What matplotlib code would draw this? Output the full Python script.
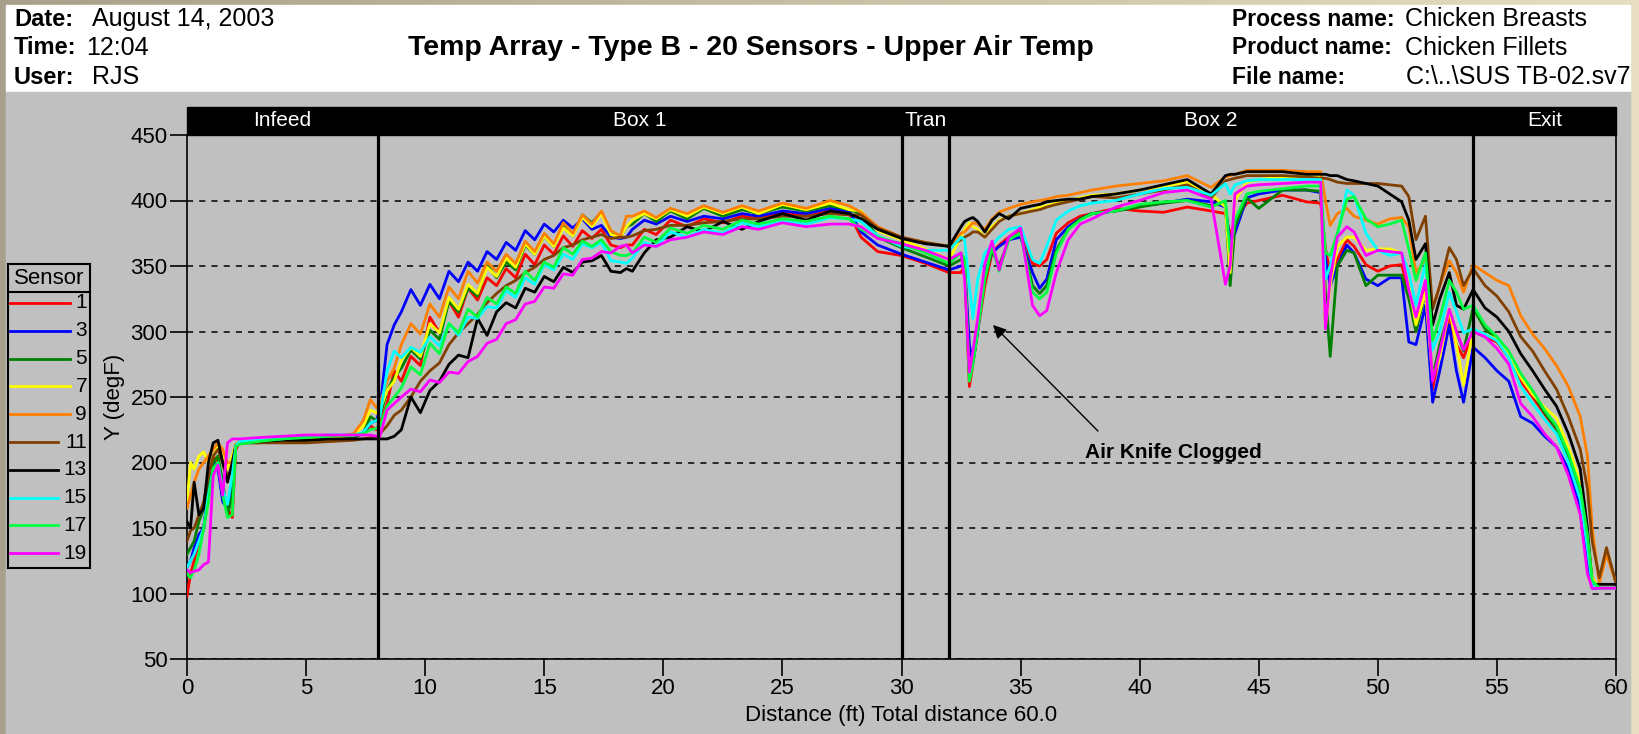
import numpy as np
import matplotlib.pyplot as plt
from matplotlib.patches import Rectangle

plt.rcParams['font.family'] = ['Liberation Sans', 'DejaVu Sans']

W, H = 1639, 734

# distance along the oven (ft)
dist = [0.0, 0.15, 0.3, 0.5, 0.7, 0.9, 1.1, 1.3, 1.5, 1.7, 1.9, 2.05, 2.2,
        3, 4, 5, 6, 7, 7.4, 7.7, 7.95,
        8.1, 8.4, 8.7, 9.0, 9.4, 9.8, 10.2, 10.6, 11.0, 11.4, 11.8, 12.2, 12.6, 13.0,
        13.4, 13.8, 14.2, 14.6, 15.0, 15.4, 15.8, 16.2, 16.6, 17.0, 17.4, 17.8, 18.2, 18.45,
        18.7, 19.2, 19.7, 20.3, 21, 21.7, 22.5, 23.3, 24, 25, 26, 27, 27.8,
        28.3, 29, 30, 31, 32, 32.5,
        32.65, 32.85, 33.0, 33.2, 33.5, 33.8, 34.1, 34.5, 35.0, 35.5, 35.8, 36.1, 36.5, 37, 37.5, 38,
        39, 40, 41, 42, 43, 43.6, 43.8, 44, 44.5, 45, 46, 47, 47.6,
        47.8, 48.0, 48.3, 48.7, 49.0, 49.5, 50.0, 50.5, 51.0, 51.3, 51.6, 52.0, 52.3, 52.6, 53.0, 53.3, 53.6, 54.0,
        54.5, 55, 55.5, 56, 56.5, 57, 57.5, 58, 58.5, 58.8, 59.0, 59.3, 59.6, 60]

# upper air temperature per sensor (degF)
s1 = [98, 115, 125, 140, 150, 175, 205, 200, 175, 165, 158, 210, 215,
      216, 217, 218, 219, 220, 222, 228, 225,
      230, 245, 270, 262, 281, 274, 311, 299, 323, 311, 333, 324, 341, 335, 348, 341, 359, 351, 366, 359, 373, 365, 377, 371, 378, 366, 364, 366,
      366, 378, 374, 385, 380, 386, 383, 388, 386, 391, 388, 392, 390,
      372, 361, 358, 352, 345, 345,
      350, 258, 275, 300, 335, 360, 366, 372, 378, 352, 350, 355, 375, 383, 388, 390,
      394, 392, 391, 395, 392, 390, 373, 385, 398, 400, 404, 399, 398,
      363, 345, 355, 370, 365, 351, 346, 350, 351, 330, 300, 335, 256, 285, 311, 290, 280, 300,
      296, 292, 280, 262, 250, 237, 225, 205, 178, 142, 110, 104, 104, 104]
s3 = [120, 125, 135, 145, 150, 180, 200, 195, 170, 165, 185, 212, 215,
      216, 217, 218, 219, 220, 222, 230, 232,
      240, 290, 305, 315, 332, 320, 336, 325, 346, 338, 353, 346, 361, 355, 368, 362, 377, 370, 382, 376, 385, 379, 386, 378, 381, 372, 371, 372,
      378, 385, 382, 388, 384, 388, 386, 390, 388, 392, 390, 394, 392,
      376, 366, 359, 353, 347, 350,
      352, 290, 276, 300, 345, 360, 365, 370, 372, 345, 333, 340, 370, 380, 386, 390,
      392, 396, 398, 401, 399, 395, 368, 375, 402, 405, 408, 408, 406,
      355, 335, 350, 366, 360, 340, 335, 341, 341, 292, 290, 320, 246, 270, 305, 270, 246, 288,
      280, 270, 262, 235, 230, 220, 212, 195, 165, 125, 104, 104, 104, 104]
s5 = [130, 135, 140, 155, 165, 185, 200, 205, 185, 160, 175, 212, 215,
      215, 216, 217, 218, 219, 222, 235, 232,
      235, 255, 265, 272, 286, 279, 301, 294, 323, 315, 333, 327, 351, 341, 353, 347, 366, 359, 373, 365, 381, 373, 389, 383, 391, 376, 372, 380,
      382, 390, 384, 392, 386, 394, 388, 393, 390, 395, 392, 396, 393,
      390, 372, 364, 357, 350, 355,
      352, 268, 280, 305, 340, 362, 350, 370, 375, 335, 329, 335, 362, 378, 386, 390,
      392, 395, 398, 400, 396, 398, 335, 380, 402, 394, 408, 408, 407,
      330, 281, 350, 362, 360, 335, 343, 343, 343, 325, 300, 330, 265, 290, 315, 300, 285, 318,
      302, 294, 283, 266, 253, 238, 226, 205, 178, 143, 110, 104, 104, 104]
s7 = [170, 200, 195, 205, 208, 200, 205, 212, 205, 195, 205, 214, 216,
      216, 217, 218, 219, 221, 228, 240, 238,
      240, 255, 262, 278, 288, 281, 306, 299, 326, 317, 336, 329, 349, 342, 356, 349, 367, 359, 373, 365, 379, 373, 387, 380, 390, 374, 372, 380,
      385, 390, 386, 393, 388, 395, 390, 395, 390, 397, 393, 398, 393,
      392, 377, 370, 363, 355, 372,
      378, 383, 380, 378, 372, 380, 385, 388, 390, 393, 395, 396, 398, 400, 402, 404,
      405, 408, 411, 414, 405, 395, 345, 400, 414, 416, 418, 418, 418,
      304, 335, 365, 372, 372, 362, 363, 363, 360, 335, 305, 330, 265, 280, 317, 290, 259, 302,
      298, 294, 283, 265, 252, 242, 234, 212, 185, 145, 112, 104, 104, 104]
s9 = [165, 175, 185, 195, 200, 205, 210, 215, 210, 200, 200, 214, 216,
      216, 217, 218, 219, 222, 232, 248, 242,
      245, 262, 272, 290, 306, 298, 321, 311, 334, 325, 346, 337, 353, 346, 359, 352, 369, 361, 375, 367, 383, 375, 389, 382, 392, 377, 373, 388,
      388, 392, 387, 394, 390, 396, 391, 396, 392, 398, 394, 400, 396,
      391, 380, 372, 368, 365, 375,
      376, 380, 383, 382, 378, 386, 391, 394, 397, 399, 400, 401, 403, 404, 406, 408,
      411, 413, 415, 419, 410, 418, 419, 420, 423, 423, 423, 422, 422,
      400, 381, 390, 394, 388, 385, 382, 386, 387, 380, 345, 355, 318, 335, 354, 345, 330, 351,
      345, 339, 335, 312, 298, 287, 274, 258, 235, 205, 150, 108, 130, 108]
s11 = [140, 148, 150, 160, 170, 190, 205, 210, 200, 190, 195, 213, 215,
       215, 215, 215, 216, 217, 218, 219, 219,
       222, 228, 236, 240, 250, 262, 270, 276, 290, 299, 306, 313, 322, 329, 335, 339, 345, 349, 355, 358, 364, 366, 370, 372, 374, 371, 372, 372,
       373, 377, 378, 381, 381, 383, 384, 386, 386, 388, 388, 390, 389,
       389, 379, 372, 368, 365, 370,
       372, 374, 376, 376, 372, 378, 384, 388, 390, 392, 393, 395, 397, 399, 401, 403,
       402, 405, 408, 412, 402, 415, 416, 417, 419, 419, 419, 418, 417,
       417, 416, 414, 413, 413, 413, 413, 412, 411, 403, 370, 388, 317, 335, 364, 355, 335, 348,
       335, 327, 315, 296, 285, 270, 256, 235, 210, 180, 140, 112, 135, 108]
s13 = [155, 150, 185, 160, 165, 200, 215, 217, 200, 185, 200, 213, 215,
       216, 217, 217, 218, 218, 218, 218, 218,
       218, 218, 220, 225, 250, 238, 255, 262, 275, 282, 280, 310, 297, 315, 322, 318, 333, 330, 342, 338, 349, 345, 353, 354, 358, 346, 345, 348,
       346, 360, 370, 372, 380, 376, 384, 378, 384, 390, 385, 392, 390,
       386, 378, 371, 367, 365, 380,
       384, 386, 387, 384, 376, 385, 390, 386, 394, 396, 397, 399, 400, 401, 401, 403,
       405, 408, 412, 416, 405, 419, 420, 420, 422, 422, 422, 420, 420,
       420, 419, 419, 416, 415, 413, 411, 405, 399, 385, 355, 367, 305, 325, 345, 320, 317, 332,
       318, 311, 300, 283, 270, 256, 243, 222, 195, 150, 107, 107, 107, 107]
s15 = [120, 125, 130, 140, 150, 175, 195, 200, 180, 168, 190, 213, 216,
       217, 218, 220, 221, 221, 223, 230, 232,
       235, 270, 285, 280, 288, 284, 296, 289, 306, 297, 311, 310, 319, 318, 331, 326, 341, 336, 351, 347, 359, 355, 367, 364, 368, 354, 353, 352,
       356, 368, 365, 376, 372, 378, 375, 383, 380, 384, 382, 387, 386,
       384, 373, 365, 362, 362, 372,
       370, 335, 310, 340, 360, 366, 372, 378, 380, 355, 352, 365, 385, 392, 396, 398,
       400, 405, 409, 410, 404, 413, 405, 412, 415, 416, 416, 416, 416,
       340, 350, 373, 408, 404, 375, 362, 358, 360, 345, 320, 352, 286, 300, 330, 315, 299, 302,
       298, 293, 280, 258, 245, 233, 222, 200, 172, 135, 106, 104, 104, 104]
s17 = [115, 112, 118, 130, 150, 170, 195, 200, 175, 158, 160, 212, 214,
       216, 218, 219, 220, 221, 222, 225, 226,
       228, 243, 250, 257, 273, 267, 291, 283, 306, 299, 317, 311, 326, 321, 334, 329, 346, 339, 353, 349, 364, 359, 369, 365, 370, 361, 358, 358,
       360, 372, 368, 379, 375, 381, 378, 385, 382, 386, 384, 388, 386,
       378, 372, 367, 360, 352, 360,
       355, 262, 275, 300, 340, 365, 346, 370, 375, 330, 325, 330, 360, 378, 385, 390,
       392, 397, 399, 400, 395, 400, 360, 385, 405, 407, 409, 411, 411,
       360, 358, 375, 401, 403, 386, 380, 382, 385, 363, 339, 360, 293, 310, 339, 330, 317, 320,
       305, 296, 285, 268, 255, 240, 228, 207, 180, 145, 110, 104, 104, 104]
s19 = [118, 116, 117, 118, 122, 124, 190, 198, 175, 215, 218, 218, 218,
       219, 220, 221, 221, 221, 221, 221, 220,
       220, 240, 245, 250, 256, 254, 263, 261, 269, 268, 277, 281, 291, 294, 306, 309, 321, 323, 334, 333, 344, 343, 355, 356, 361, 360, 365, 366,
       360, 366, 365, 370, 372, 376, 374, 380, 378, 383, 380, 382, 382,
       380, 371, 367, 362, 355, 360,
       340, 269, 285, 310, 352, 369, 347, 372, 379, 320, 312, 316, 345, 370, 382, 386,
       395, 400, 406, 408, 401, 336, 350, 405, 411, 412, 413, 414, 414,
       302, 340, 372, 380, 376, 358, 362, 361, 360, 332, 311, 339, 262, 285, 317, 300, 286, 300,
       296, 287, 275, 245, 235, 222, 212, 190, 160, 115, 104, 104, 104, 104]

sensors = ['1', '3', '5', '7', '9', '11', '13', '15', '17', '19']
series = [s1, s3, s5, s7, s9, s11, s13, s15, s17, s19]
colors = ['#ff0000', '#0000ff', '#008000', '#ffff00', '#ff8000',
          '#804000', '#000000', '#00ffff', '#00ff40', '#ff00ff']

zones = [(0, 8, 'Infeed'), (8, 30, 'Box 1'), (30, 32, 'Tran'), (32, 54, 'Box 2'), (54, 60, 'Exit')]

fig = plt.figure(figsize=(W / 100, H / 100), dpi=100)

# background: beige frame, white header, gray body (pixel coords)
bg = fig.add_axes([0, 0, 1, 1])
bg.set_xlim(0, W)
bg.set_ylim(H, 0)
bg.axis('off')
left_c = np.array([168, 160, 138]) / 255
right_c = np.array([231, 221, 192]) / 255
t = np.linspace(0, 1, 256)[None, :, None]
grad = left_c * (1 - t) + right_c * t
bg.imshow(grad, extent=[0, W, H, 0], aspect='auto')
bg.add_patch(Rectangle((6, 5), 1624, 87, color='white'))
bg.add_patch(Rectangle((6, 92), 1624, 642, color='#c0c0c0'))

for y, lab, val, vx in [(19, 'Date:', 'August 14, 2003', 92), (48, 'Time:', '12:04', 86), (77, 'User:', 'RJS', 92)]:
    bg.text(14, y, lab, fontsize=17, fontweight='bold', va='center')
    bg.text(vx, y, val, fontsize=18, va='center')
for y, lab, val, vx in [(19, 'Process name:', 'Chicken Breasts', 1405), (48, 'Product name:', 'Chicken Fillets', 1405),
                        (77, 'File name:', 'C:\\..\\SUS TB-02.sv7', 1406)]:
    bg.text(1232, y, lab, fontsize=16.5, fontweight='bold', va='center')
    bg.text(vx, y, val, fontsize=18, va='center')
bg.text(751, 48, 'Temp Array - Type B - 20 Sensors - Upper Air Temp', fontsize=20.5,
        fontweight='bold', ha='center', va='center')

# main plot
ax = fig.add_axes([187 / W, 1 - 659 / H, (1616 - 187) / W, (659 - 135) / H])
ax.set_facecolor('#c0c0c0')
for vals, c in zip(series, colors):
    ax.plot(dist, vals, color=c, lw=2, zorder=3)

for z in [8, 30, 32, 54]:
    ax.axvline(z, color='black', lw=2.3, zorder=5)

ax.set_xlim(0, 60)
ax.set_ylim(50, 450)
ax.set_xticks(range(0, 61, 5))
ax.set_yticks(range(50, 451, 50))
ax.grid(axis='y', color='black', linestyle=(0, (4, 4)), lw=1.1)
ax.tick_params(direction='out', length=12, width=1.2, labelsize=16, pad=2)
ax.spines['top'].set_visible(False)
for sp in ['left', 'bottom', 'right']:
    ax.spines[sp].set_linewidth(1.2)
ax.set_xlabel('Distance (ft) Total distance 60.0', fontsize=16, labelpad=4)
ax.set_ylabel('Y (degF)', fontsize=16, labelpad=4)

# zone band above the plot
bh = 28 / 524
ax.add_patch(Rectangle((0, 1), 1, bh, transform=ax.transAxes, color='black', clip_on=False))
for x0, x1, name in zones:
    ax.text((x0 + x1) / 2, 1 + bh / 2, name, transform=ax.get_xaxis_transform(),
            ha='center', va='center', color='white', fontsize=15)

ax.annotate('', xy=(33.84, 305), xytext=(38.25, 224),
            arrowprops=dict(arrowstyle='-|>', color='black', lw=1, shrinkA=0, shrinkB=0, mutation_scale=20))
ax.text(37.7, 208, 'Air Knife Clogged', fontsize=15, fontweight='bold', va='center', ha='left')

# sensor legend
lg = fig.add_axes([8 / W, 1 - 568 / H, 82 / W, 304 / H])
lg.set_xlim(0, 82)
lg.set_ylim(304, 0)
lg.set_facecolor('#c0c0c0')
lg.set_xticks([])
lg.set_yticks([])
for sp in lg.spines.values():
    sp.set_linewidth(1.5)
lg.axhline(28, color='black', lw=1.5)
lg.text(41, 14, 'Sensor', fontsize=16, ha='center', va='center')
for i, (name, c) in enumerate(zip(sensors, colors)):
    yy = 39 + 27.8 * i
    x_end = 62 if len(name) == 1 else 50
    lg.plot([2, x_end], [yy, yy], color=c, lw=2)
    lg.text(79, yy, name, fontsize=15, ha='right', va='center')

fig.savefig('out.png', dpi=100)
